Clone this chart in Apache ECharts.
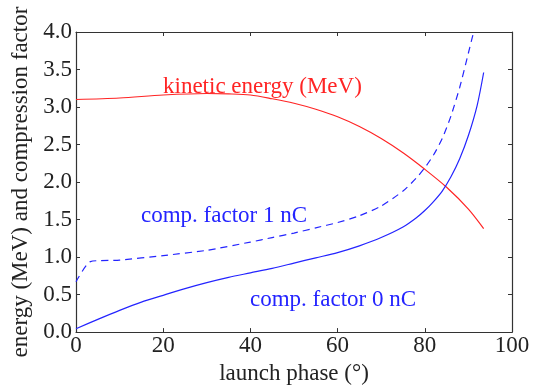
<!DOCTYPE html>
<html><head><meta charset="utf-8">
<script src="https://cdn.jsdelivr.net/npm/echarts@6/dist/echarts.min.js"></script>
<style>html,body{margin:0;padding:0;background:#fff}#c{width:535px;height:390px}</style>
</head><body><div id="c"></div>
<script>
// launch phase (deg) and values
const phaseKE = [0, 10, 20, 30, 35, 40, 45, 50, 55, 60, 65, 70, 75, 80, 85, 90, 93.5];
const kineticEnergy = [3.10, 3.12, 3.16, 3.18, 3.175, 3.16, 3.11, 3.05, 2.97, 2.87, 2.74, 2.58, 2.39, 2.17, 1.93, 1.64, 1.38];

const phase0 = [0, 5, 10, 15, 20, 25, 30, 35, 40, 45, 50, 55, 60, 65, 70, 75, 78, 80, 82, 84, 86, 88, 90, 92, 93.5];
const comp0nC = [0.045, 0.17, 0.29, 0.40, 0.49, 0.58, 0.66, 0.73, 0.79, 0.85, 0.92, 0.99, 1.06, 1.15, 1.26, 1.40, 1.52, 1.62, 1.74, 1.88, 2.07, 2.31, 2.62, 3.02, 3.46];

const phase1 = [0, 3.3, 10, 20, 30, 40, 45, 50, 55, 60, 65, 70, 75, 78, 80, 82, 84, 86, 88, 90, 91.2];
const comp1nC = [0.67, 0.94, 0.96, 1.02, 1.09, 1.20, 1.26, 1.32, 1.39, 1.46, 1.55, 1.68, 1.88, 2.05, 2.19, 2.36, 2.58, 2.88, 3.26, 3.72, 4.0];

const xTicks = [0, 20, 40, 60, 80, 100];
const yTicks = [0, 0.5, 1, 1.5, 2, 2.5, 3, 3.5, 4];

const pair = (xs, ys) => xs.map((x, i) => [x, ys[i]]);
const FONT = 'Liberation Serif';
const FS = 23;
const axisColor = '#333';
const RED = '#ff2424';
const BLUE = '#2424ff';

const chart = echarts.init(document.getElementById('c'));
const baseX = {
  type: 'value', min: xTicks[0], max: xTicks[xTicks.length - 1], interval: 20,
  axisLine: {show: true, onZero: false, lineStyle: {color: axisColor, width: 1.2}},
  axisTick: {show: true, inside: true, length: 4, lineStyle: {color: axisColor}},
  splitLine: {show: false}
};
const baseY = {
  type: 'value', min: yTicks[0], max: yTicks[yTicks.length - 1], interval: 0.5,
  axisLine: {show: true, onZero: false, lineStyle: {color: axisColor, width: 1.2}},
  axisTick: {show: true, inside: true, length: 4, lineStyle: {color: axisColor}},
  splitLine: {show: false}
};
chart.setOption({
  animation: false,
  grid: {left: 76, right: 23, top: 32, bottom: 50, containLabel: false},
  xAxis: [
    Object.assign({}, baseX, {
      position: 'bottom',
      axisLabel: {show: true, color: '#222', fontFamily: FONT, fontSize: FS, margin: 2},
      name: 'launch phase (°)', nameLocation: 'middle', nameGap: 25,
      nameTextStyle: {color: '#222', fontFamily: FONT, fontSize: FS}
    }),
    Object.assign({}, baseX, {position: 'top', axisLabel: {show: false}})
  ],
  yAxis: [
    Object.assign({}, baseY, {
      position: 'left',
      axisLabel: {show: true, color: '#222', fontFamily: FONT, fontSize: FS, margin: 4,
        formatter: v => v.toFixed(1)},
      name: 'energy (MeV) and compression factor', nameLocation: 'middle', nameGap: 40,
      nameTextStyle: {color: '#222', fontFamily: FONT, fontSize: FS}
    }),
    Object.assign({}, baseY, {position: 'right', axisLabel: {show: false}})
  ],
  series: [
    {type: 'line', data: pair(phaseKE, kineticEnergy), smooth: 0.3, showSymbol: false,
      lineStyle: {color: RED, width: 1.2}},
    {type: 'line', data: pair(phase0, comp0nC), smooth: 0.3, showSymbol: false,
      lineStyle: {color: BLUE, width: 1.2}},
    {type: 'line', data: pair(phase1, comp1nC), smooth: 0.2, showSymbol: false,
      lineStyle: {color: BLUE, width: 1.2, type: [7, 5]}}
  ],
  graphic: [
    {type: 'text', x: 163, y: 87, style: {text: 'kinetic energy (MeV)', fill: RED, font: FS + 'px "Liberation Serif"', verticalAlign: 'middle'}},
    {type: 'text', x: 141, y: 216, style: {text: 'comp. factor 1 nC', fill: BLUE, font: FS + 'px "Liberation Serif"', verticalAlign: 'middle'}},
    {type: 'text', x: 250, y: 300, style: {text: 'comp. factor 0 nC', fill: BLUE, font: FS + 'px "Liberation Serif"', verticalAlign: 'middle'}}
  ]
});
</script></body></html>
